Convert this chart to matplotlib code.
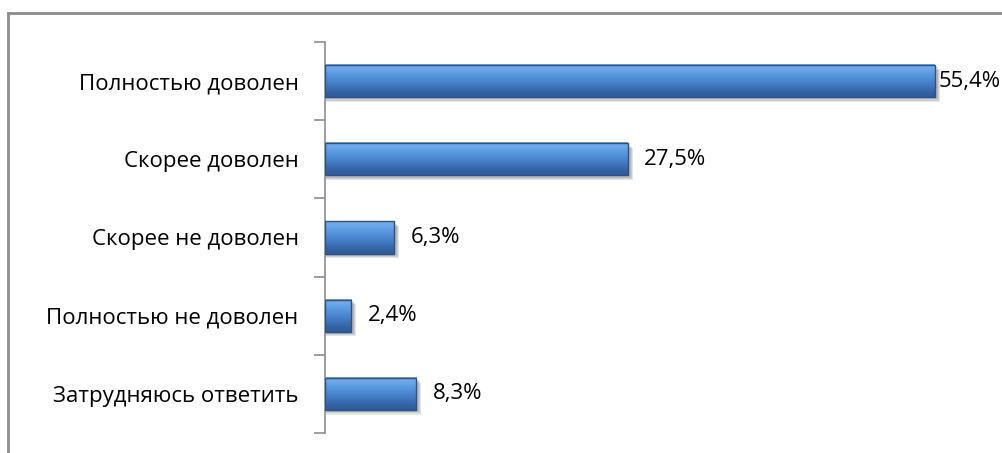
#importing libraries
import matplotlib.pyplot as plt
import numpy as np
from matplotlib.patches import Rectangle
from matplotlib.lines import Line2D

plt.rcParams['font.family'] = ['Open Sans', 'DejaVu Sans']

#chart data
categories = ['Полностью доволен', 'Скорее доволен', 'Скорее не доволен',
              'Полностью не доволен', 'Затрудняюсь ответить']
values = [55.4, 27.5, 6.3, 2.4, 8.3]
labels = ['55,4%', '27,5%', '6,3%', '2,4%', '8,3%']

fig = plt.figure(figsize=(10.03, 4.53), dpi=100)
ax = fig.add_axes([325/1003, 20/453, 675/1003, 391/453])

#gradient for the bars, light on top and darker at the bottom
grad = np.array([[0.45, 0.68, 0.93], [0.35, 0.60, 0.88], [0.29, 0.53, 0.82],
                 [0.24, 0.45, 0.73], [0.19, 0.36, 0.60]])
grad = grad.reshape(len(grad), 1, 3)

h = 0.41
for i, v in enumerate(values):
    #soft shadow
    for k, a in enumerate([0.10, 0.10, 0.10]):
        ax.add_patch(Rectangle((0.1, i - h/2 + 0.03 + k*0.015), v + 0.15 + k*0.1, h,
                               facecolor='black', alpha=a, edgecolor='none', zorder=1))
    ax.imshow(grad, extent=(0, v, i - h/2, i + h/2), origin='lower',
              aspect='auto', interpolation='bicubic', zorder=2)
    ax.add_patch(Rectangle((0, i - h/2), v, h, facecolor='none',
                           edgecolor='#2d5180', lw=1.0, zorder=3))
    #the longest label sits close to the bar, like in the original
    gap = 0.36 if i == 0 else 1.5
    ax.text(v + gap, i, labels[i], va='center', ha='left', fontsize=16, color='black')

ax.set_xlim(0, 675/11.01)
ax.set_ylim(4.5, -0.5)
ax.set_yticks(range(len(categories)))
ax.set_yticklabels(categories, fontsize=16)
ax.set_yticks(np.arange(-0.5, 5, 1), minor=True)
ax.tick_params(axis='y', which='major', length=0, pad=19)
ax.tick_params(axis='y', which='minor', length=8, width=1.2, color='#8c8c8c')
ax.set_xticks([])
for s in ['top', 'right', 'bottom']:
    ax.spines[s].set_visible(False)
ax.spines['left'].set_color('#8c8c8c')
ax.spines['left'].set_linewidth(1.2)

#frame around the chart (right and bottom edges are outside the picture)
fig.add_artist(Line2D([8/1003, 1], [1 - 13/453, 1 - 13/453], color='#8c8c8c', lw=2))
fig.add_artist(Line2D([8/1003, 8/1003], [0, 1 - 13/453], color='#8c8c8c', lw=2))

plt.savefig('out.png', dpi=100)
